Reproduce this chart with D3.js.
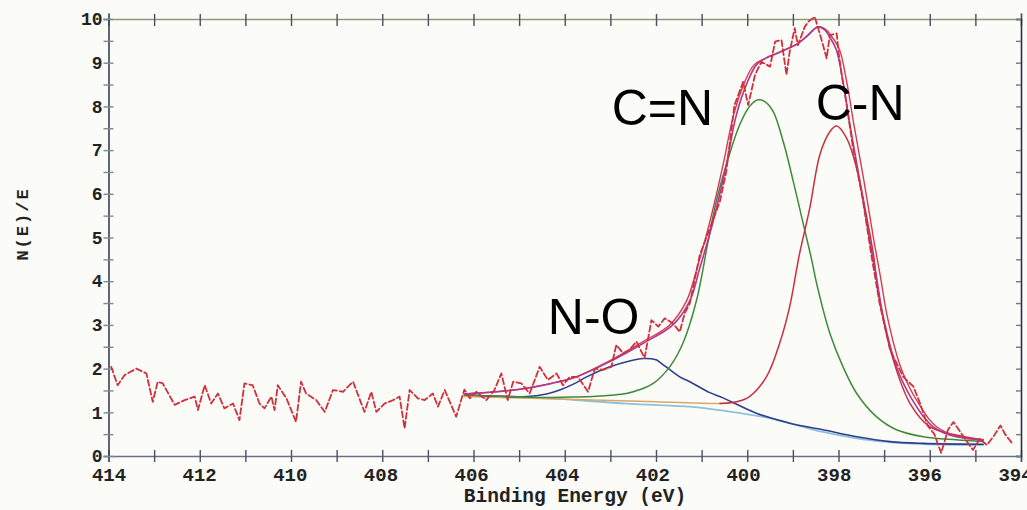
<!DOCTYPE html>
<html><head><meta charset="utf-8">
<script src="https://cdn.jsdelivr.net/npm/d3@7"></script>
<style>html,body{margin:0;padding:0;background:#fbfbf8;}svg{display:block;}</style>
</head><body>
<svg id="c" width="1027" height="510"></svg>
<script>
// ---- data ----
const xTicks = [414,413,412,411,410,409,408,407,406,405,404,403,402,401,400,399,398,397,396,395,394];
const yTicks = [0,0.5,1,1.5,2,2.5,3,3.5,4,4.5,5,5.5,6,6.5,7,7.5,8,8.5,9,9.5,10];
const peakLabels = ["C=N","C-N","N-O"];
const peakLabelE = [402.97, 398.5, 404.37];
const peakLabelV = [7.57, 7.69, 2.79];

const rawEnergy = [413.94,413.8,413.65,413.39,413.17,413.03,412.92,412.81,412.55,412.33,412.11,412.04,411.89,411.75,411.6,411.46,411.27,411.13,411.02,410.84,410.69,410.58,410.43,410.36,410.29,410.1,
 409.89,409.78,409.67,409.45,409.26,409.08,408.86,408.64,408.53,408.39,408.24,408.13,407.95,407.76,407.62,407.51,407.4,407.22,407.07,406.89,406.78,406.63,406.38,406.2,
 406.08,405.94,405.72,405.54,405.39,405.25,405.13,404.95,404.77,404.55,404.37,404.18,404.04,403.89,403.71,403.49,403.34,403.16,402.98,402.87,402.72,402.58,402.43,402.25,402.1,401.95,401.81,401.63,401.48,401.37,401.26,
 401.04,400.82,400.6,400.46,400.28,400.09,399.98,399.83,399.69,399.5,399.39,399.25,399.14,399.07,398.96,398.89,398.74,398.66,398.52,398.37,398.26,398.19,398.04,398.0,397.93,397.82,397.68,397.46,397.28,
 397.1,396.87,396.58,396.36,396.21,396.05,395.9,395.75,395.6,395.48,395.33,395.2,395.05,394.9,394.75,394.6,394.45,394.35,394.2];
const rawCounts = [2.04,1.62,1.85,2.0,1.89,1.24,1.70,1.66,1.17,1.28,1.36,1.05,1.62,1.2,1.43,1.09,1.2,0.82,1.66,1.62,1.2,1.09,1.36,1.05,1.62,1.32,
 0.78,1.70,1.43,1.28,1.01,1.51,1.47,1.70,1.40,1.01,1.47,1.01,1.2,1.28,1.36,0.63,1.51,1.32,1.28,1.43,1.13,1.51,0.9,1.52,
 1.32,1.47,1.28,1.51,1.89,1.28,1.70,1.66,1.43,2.04,1.74,1.89,1.62,1.81,1.81,1.47,2.0,1.97,2.04,2.54,2.35,2.43,2.62,2.24,3.11,2.96,3.15,3.04,2.84,3.27,3.49,
 4.6,5.21,5.82,6.51,8.03,8.56,8.03,8.72,9.02,8.91,9.48,9.52,8.72,9.25,9.79,9.40,9.82,9.94,10.05,9.52,9.1,9.63,9.67,9.25,8.72,8.03,7.04,5.82,4.6,
 3.5,2.43,1.81,1.59,1.2,0.7,0.5,0.07,0.6,0.78,0.55,0.35,0.14,0.4,0.25,0.45,0.7,0.5,0.3];

const envEnergy = [406.2,405.5,404.84,404.3,403.75,403.01,402.28,401.63,401.26,401.04,400.75,400.46,400.24,400.0,399.8,399.6,399.36,399.1,398.92,398.7,398.45,398.3,398.2,398.05,397.9,397.75,397.53,397.31,397.17,397.02,396.73,396.5,396.29,396.1,395.93,395.7,395.42,395.1,394.83];
const envCounts = [1.42,1.47,1.55,1.66,1.81,2.16,2.58,3.0,3.55,4.3,5.36,6.66,7.8,8.55,8.95,9.1,9.21,9.33,9.42,9.6,9.82,9.75,9.6,9.3,8.56,7.57,6.28,4.9,4.1,3.19,2.04,1.5,1.13,0.85,0.67,0.53,0.44,0.39,0.37];
const env2Energy = [406.2,405.5,404.84,404.3,403.75,403.05,402.35,401.7,401.33,401.1,400.82,400.53,400.3,400.06,399.85,399.6,399.36,399.1,398.92,398.7,398.45,398.27,398.15,397.98,397.82,397.66,397.44,397.22,397.08,396.93,396.64,396.41,396.2,396.02,395.85,395.62,395.36,395.05,394.83];
const env2Counts = envCounts;

const cnDoubleEnergy = [406.2,405.5,404.48,403.9,403.38,403.0,402.65,402.35,402.06,401.7,401.41,401.11,400.86,400.68,400.46,400.17,399.95,399.76,399.6,399.43,399.21,398.99,398.77,398.59,398.48,398.19,397.9,397.6,397.17,396.73,396.14,395.42,394.83];
const cnDoubleCounts = [1.4,1.37,1.34,1.35,1.36,1.39,1.43,1.52,1.66,2.04,2.58,3.57,4.9,5.82,6.66,7.57,8.0,8.15,8.1,7.88,7.19,6.28,5.3,4.5,3.95,2.81,2.04,1.43,0.9,0.6,0.44,0.37,0.33];

const cnSingleEnergy = [400.6,400.24,399.95,399.58,399.29,399.07,398.92,398.85,398.63,398.41,398.19,398.04,397.82,397.6,397.39,397.24,397.1,396.8,396.43,396.0,395.42,394.83];
const cnSingleCounts = [1.2,1.24,1.36,1.81,2.58,3.42,4.26,4.65,5.67,6.89,7.42,7.55,7.27,6.58,5.51,4.65,3.57,2.2,1.2,0.67,0.48,0.37];

const baseEnergy = [406.2,404,402,400.6,400.3];
const baseCounts = [1.36,1.3,1.24,1.2,1.22];

const noEnergy = [406.2,404.84,404.4,404.11,403.8,403.52,403.01,402.6,402.28,402.0,401.92,401.48,401.26,400.82,400.53,399.8,399.07,398.34,397.6,396.87,396.14,394.83];
const noCounts = [1.4,1.36,1.42,1.51,1.65,1.81,2.04,2.17,2.23,2.2,2.15,1.81,1.7,1.45,1.33,0.98,0.75,0.6,0.44,0.33,0.29,0.27];

const bgEnergy = [406.2,404.33,402.65,401.26,400.9,399.43,398.34,397.24,396.14,394.83];
const bgCounts = [1.38,1.32,1.2,1.13,1.09,0.85,0.55,0.35,0.27,0.25];

// ---- drawing ----
const svg = d3.select("#c");
const L = 108.5, R = 1021, T = 19, B = 456;
const x = d3.scaleLinear().domain([414,394]).range([L,R]);
const y = d3.scaleLinear().domain([0,10]).range([B,T]);
const mono = "'Liberation Mono','DejaVu Sans Mono',monospace";
const axisCol = "#4a4f62";

svg.append("rect").attr("width",1027).attr("height",510).attr("fill","#fbfbf8");

// bottom axis
const gx = svg.append("g").attr("transform",`translate(0,${B})`)
  .call(d3.axisBottom(x).tickValues(xTicks).tickSize(6).tickFormat(d => d%2===0 ? d : ""));
gx.select(".domain").attr("stroke","#6a6f8a").attr("stroke-width",1.6);
gx.selectAll(".tick line").attr("y1",-6).attr("y2",6).attr("stroke",axisCol).attr("stroke-width",1.4);
gx.selectAll(".tick text").attr("y",12).attr("dy","0.71em").attr("x", d => -(414-d)*0.3)
  .attr("font-family",mono).attr("font-weight","bold").attr("font-size",19).attr("fill","#222");

// top frame line
const gt = svg.append("g").attr("transform",`translate(0,${T})`)
  .call(d3.axisTop(x).tickValues(xTicks).tickSize(6).tickFormat(""));
gt.select(".domain").attr("stroke","#8a9a78").attr("stroke-width",1.6);
gt.selectAll(".tick line").attr("y1",-5).attr("y2",7).attr("stroke",axisCol).attr("stroke-width",1.4);

// left axis
const gy = svg.append("g").attr("transform",`translate(${L},0)`)
  .call(d3.axisLeft(y).tickValues(yTicks).tickSize(5).tickFormat(d => Number.isInteger(d) ? d : ""));
gy.select(".domain").attr("stroke","#3a3f52").attr("stroke-width",1.6);
gy.selectAll(".tick line").attr("x1",-5).attr("x2",5).attr("stroke","#7a8a9a").attr("stroke-width",1.4);
gy.selectAll(".tick text").attr("x",-6).attr("font-family",mono).attr("font-weight","bold").attr("font-size",18).attr("fill","#222");

// right axis
const gr = svg.append("g").attr("transform",`translate(${R},0)`)
  .call(d3.axisLeft(y).tickValues(yTicks).tickSize(5).tickFormat(""));
gr.select(".domain").attr("stroke","#2a2f42").attr("stroke-width",1.6);
gr.selectAll(".tick line").attr("stroke","#6a7a8a").attr("stroke-width",1.4);

// axis titles
svg.append("text").attr("x",575).attr("y",502).attr("text-anchor","middle")
  .attr("font-family",mono).attr("font-weight","bold").attr("font-size",19.5).attr("fill","#222")
  .text("Binding Energy (eV)");
svg.append("text").attr("transform","translate(28,224) rotate(-90)").attr("text-anchor","middle")
  .attr("font-family",mono).attr("font-weight","bold").attr("font-size",17).attr("fill","#222")
  .attr("letter-spacing",2)
  .text("N(E)/E");

// curves
function pts(E,V){ return E.map((e,i)=>[e,V[i]]); }
const lin = d3.line().x(d=>x(d[0])).y(d=>y(d[1]));
const smooth = d3.line().x(d=>x(d[0])).y(d=>y(d[1])).curve(d3.curveCatmullRom);

function path(data, gen, col, w, dash){
  const p = svg.append("path").attr("d",gen(data)).attr("fill","none").attr("stroke",col)
    .attr("stroke-width",w).attr("stroke-linejoin","round").attr("stroke-linecap","round");
  if (dash) p.attr("stroke-dasharray",dash);
  return p;
}
path(pts(bgEnergy,bgCounts), smooth, "#8cc0dc", 1.8);
path(pts(baseEnergy,baseCounts), smooth, "#d9a86a", 1.5);
path(pts(noEnergy,noCounts), smooth, "#2d3f8e", 1.6);
path(pts(cnDoubleEnergy,cnDoubleCounts), smooth, "#3f8a3a", 1.5);
path(pts(cnSingleEnergy,cnSingleCounts), smooth, "#c8303e", 1.5);
path(pts(env2Energy,env2Counts), smooth, "#d83a50", 1.4);
path(pts(envEnergy,envCounts), smooth, "#b0388e", 1.6);
path(pts(rawEnergy,rawCounts), lin, "#d0303c", 1.8, "6,3");

// peak labels
svg.selectAll("text.pk").data(peakLabels).enter().append("text").attr("class","pk")
  .attr("x",(d,i)=>x(peakLabelE[i])).attr("y",(d,i)=>y(peakLabelV[i]))
  .attr("font-family","'Liberation Sans',Arial,sans-serif").attr("font-size",50).attr("fill","#000")
  .text(d=>d);
</script>
</body></html>
